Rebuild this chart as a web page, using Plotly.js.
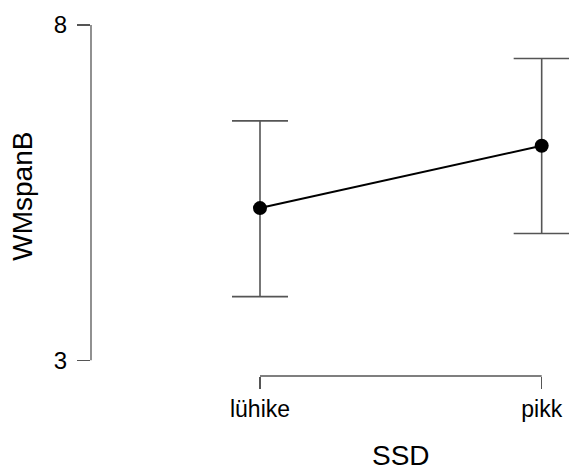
<!DOCTYPE html>
<html>
<head>
<meta charset="utf-8">
<script src="https://cdn.plot.ly/plotly-3.0.1.min.js"></script>
<style>html,body{margin:0;padding:0;background:#fff;}#chart{width:569px;height:468px;}</style>
</head>
<body>
<div id="chart"></div>
<script>
var categories = ["lühike", "pikk"];
var means = [5.27, 6.20];
var lowerCI = [3.95, 4.89];
var upperCI = [6.57, 7.50];
var yTickVals = [3, 8];
var xTitle = "SSD";
var yTitle = "WMspanB";

var plus = means.map(function(m, i){ return upperCI[i] - m; });
var minus = means.map(function(m, i){ return m - lowerCI[i]; });

var font = "Liberation Sans, Arial, sans-serif";
var axisGray = "#555555";

var trace = {
  x: categories,
  y: means,
  type: "scatter",
  mode: "lines+markers",
  line: {color: "#000000", width: 2},
  marker: {color: "#000000", size: 14},
  error_y: {type: "data", symmetric: false, array: plus, arrayminus: minus,
            color: axisGray, thickness: 1.6, width: 28},
  cliponaxis: false,
  hoverinfo: "none"
};

var layout = {
  width: 569, height: 468,
  margin: {l: 91, r: 0, t: 25, b: 92, pad: 0},
  paper_bgcolor: "#ffffff",
  plot_bgcolor: "#ffffff",
  showlegend: false,
  font: {family: font, color: "#000000"},
  xaxis: {
    type: "category",
    range: [-0.6, 1.097],
    showgrid: false, zeroline: false, showline: false,
    ticks: "outside", ticklen: 12, tickwidth: 1.3, tickcolor: axisGray,
    tickfont: {family: font, size: 23, color: "#000000"},
    fixedrange: true
  },
  yaxis: {
    range: [2.766, 8],
    showgrid: false, zeroline: false, showline: false,
    tickmode: "array", tickvals: yTickVals, ticktext: yTickVals.map(String),
    ticks: "outside", ticklen: 13, tickwidth: 1.3, tickcolor: axisGray,
    tickfont: {family: font, size: 24, color: "#000000"},
    ticklabelstandoff: 5,
    fixedrange: true
  },
  shapes: [
    {type: "line", xref: "paper", yref: "y", x0: 0, x1: 0, y0: yTickVals[0], y1: yTickVals[1],
     line: {color: axisGray, width: 1.3}},
    {type: "line", xref: "x", yref: "paper", x0: 0, x1: 1, y0: 0, y1: 0,
     line: {color: axisGray, width: 1.3}}
  ],
  annotations: [
    {text: xTitle, xref: "x", yref: "paper", x: 0.5, y: -0.226, xanchor: "center", yanchor: "middle",
     showarrow: false, font: {family: font, size: 28, color: "#000000"}},
    {text: yTitle, xref: "paper", yref: "y", x: -0.145, y: 5.45, xanchor: "center", yanchor: "middle",
     textangle: -90, showarrow: false, font: {family: font, size: 28, color: "#000000"}}
  ]
};

Plotly.newPlot("chart", [trace], layout, {staticPlot: true, displayModeBar: false});
</script>
</body>
</html>
